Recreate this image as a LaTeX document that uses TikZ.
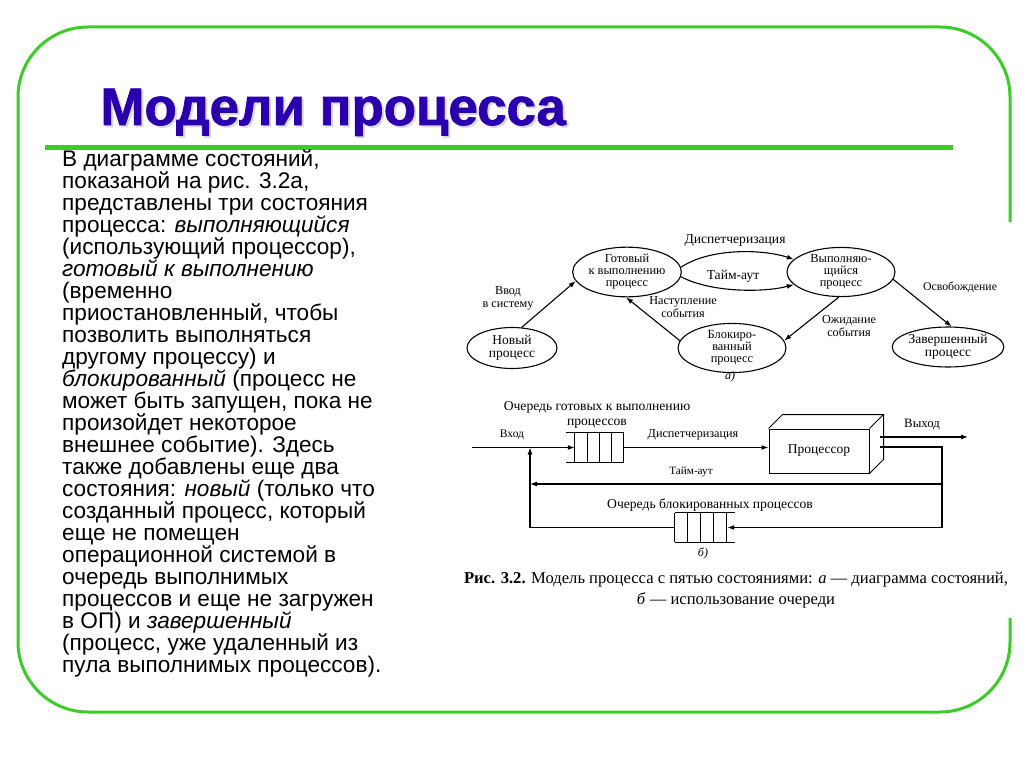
\documentclass[tikz,border=0pt]{standalone}
\usepackage{fontspec}
\setmainfont{Liberation Serif}
\newfontfamily\slidefont{Liberation Sans}
\newfontfamily\titlefont[BoldFeatures={FakeBold=1.5}]{Liberation Sans}
\usetikzlibrary{arrows.meta,positioning,calc,shapes.geometric}
\definecolor{slidegreen}{HTML}{3CCC28}
\definecolor{titleblue}{HTML}{2A00AE}

\begin{document}
\begin{tikzpicture}[x=1pt, y=-1pt, >={Latex[length=7pt,width=5pt]},
  state/.style={draw, line width=1.1pt, ellipse, minimum width=108pt, minimum height=40pt,
    inner sep=0pt, align=center, font=\fontsize{12.4}{12}\selectfont},
  bigstate/.style={state, font=\fontsize{13.5}{13.5}\selectfont},
  lbl/.style={font=\fontsize{12.2}{13}\selectfont, align=center},
  biglbl/.style={lbl, font=\fontsize{13.6}{15}\selectfont},
  flow/.style={->, line width=1.1pt},
  queue/.style={minimum height=29pt, inner sep=0pt}]
\useasboundingbox (0,0) rectangle (1024,767);
% slide frame
\draw[slidegreen, line width=3pt, rounded corners=70pt] (18,27) rectangle (1010,712);
\fill[white] (1000,222) rectangle (1022,618);
% title
\node[anchor=base west, font=\titlefont\bfseries\fontsize{52.8}{52.8}\selectfont, text=black!15] (titleshade) at (99,127) {Модели процесса};
\node[anchor=base west, font=\titlefont\bfseries\fontsize{52.8}{52.8}\selectfont, text=titleblue] (title) at (97,125) {Модели процесса};
\draw[slidegreen, line width=5pt] (45,148) -- (953,148);
% body text
\node[anchor=north west, inner sep=0pt, align=left, font=\slidefont\fontsize{22.6}{22}\selectfont] (body) at (62,150) {%
В диаграмме состояний,\\
показаной на рис. 3.2а,\\
представлены три состояния\\
процесса: \textit{выполняющийся}\\
(использующий процессор),\\
\textit{готовый к выполнению}\\
(временно\\
приостановленный, чтобы\\
позволить выполняться\\
другому процессу) и\\
\textit{блокированный} (процесс не\\
может быть запущен, пока не\\
произойдет некоторое\\
внешнее событие). Здесь\\
также добавлены еще два\\
состояния: \textit{новый} (только что\\
созданный процесс, который\\
еще не помещен\\
операционной системой в\\
очередь выполнимых\\
процессов и еще не загружен\\
в ОП) и \textit{завершенный}\\
(процесс, уже удаленный из\\
пула выполнимых процессов).};
% a) state diagram
\node[state] (ready) at (627,272) {Готовый\\к выполнению\\процесс};
\node[state] (running) at (841,272) {Выполняю-\\щийся\\процесс};
\node[bigstate, minimum width=90pt, minimum height=41pt] (new) at (512,348) {Новый\\процесс};
\node[state] (blocked) at (732,348) {Блокиро-\\ванный\\процесс};
\node[bigstate, minimum width=110pt] (exit) at (948,347) {Завершенный\\процесс};
\draw[flow] (new.65) -- (ready.190);
\draw[flow] (blocked.172) -- (ready.268);
\draw[flow] (ready.5) .. controls +(30,-20) and +(-30,-10) .. (running.165);
\draw[flow] (ready.-5) .. controls +(30,16) and +(-30,8) .. (running.195);
\draw[flow] (running.265) -- (blocked.8);
\draw[flow] (running.-8) -- (exit.80);
\node[lbl] (enter) at (508,298) {Ввод\\в систему};
\node[lbl] (wake) at (683,307) {Наступление\\события};
\node[biglbl] (dispA) at (735,240) {Диспетчеризация};
\node[biglbl] (timeA) at (733,276) {Тайм-аут};
\node[lbl] (wait) at (849,326) {Ожидание\\события};
\node[lbl, font=\fontsize{11.8}{12}\selectfont] (release) at (960,287) {Освобождение};
\node[lbl, font=\itshape\fontsize{12}{12}\selectfont] (figa) at (730,377) {а)};
% b) queues
\node[queue, minimum width=49pt] (rq) at (599.5,447.5) {};
\draw[line width=1pt] ($(rq.north west)+(-9,0)$) -- (rq.north east) ($(rq.south west)+(-9,0)$) -- (rq.south east);
\foreach \i in {0,...,4}
  \draw[line width=1pt] ($(rq.north west)+(12.25*\i,0)$) -- ($(rq.south west)+(12.25*\i,0)$);
\node[queue, minimum width=52pt] (bq) at (701,527.5) {};
\draw[line width=1pt] (bq.north west) -- ($(bq.north east)+(8,0)$) (bq.south west) -- ($(bq.south east)+(8,0)$);
\foreach \i in {0,...,4}
  \draw[line width=1pt] ($(bq.north west)+(13*\i,0)$) -- ($(bq.south west)+(13*\i,0)$);
% processor box
\node[draw, line width=1pt, minimum width=100pt, minimum height=44pt, inner sep=0pt, font=\fontsize{13.5}{14}\selectfont] (cpu) at (819,451) {Процессор};
\draw[line width=1pt] (cpu.north west) -- ++(14,-14) -- ($(cpu.north east)+(14,-14)$) -- (cpu.north east)
  ($(cpu.north east)+(14,-14)$) -- ($(cpu.south east)+(14,-14)$) -- (cpu.south east);
\coordinate (inlet) at (472,447.5);
\coordinate (cpuout) at (880,437);
\coordinate (outlet) at (968,437);
\coordinate (cpuback) at (880,447);
\coordinate (loopR) at (942,447);
\coordinate (toR) at (942,484);
\coordinate (blR) at (942,527.5);
\coordinate (toL) at (530,484);
\coordinate (loopL) at (530,527.5);
\coordinate (join) at (530,447.5);
\draw[flow] (inlet) -- (rq.west);
\draw[flow] (rq.east) -- (rq.east -| cpu.west);
\draw[flow] (cpuout) -- (outlet);
\draw[line width=1.1pt] (cpuback) -- (loopR) -- (blR);
\draw[flow] (toR) -- (toL);
\draw[flow] (blR) -- (bq.east);
\draw[line width=1.1pt] (bq.west) -- (loopL);
\draw[flow] (loopL) -- (join);
\node[biglbl] (rqlabel) at (597,415) {Очередь готовых к выполнению\\процессов};
\node[lbl, font=\fontsize{11.5}{12}\selectfont] (inlabel) at (512,435) {Вход};
\node[lbl] (dispB) at (693,435) {Диспетчеризация};
\node[lbl, font=\fontsize{12.8}{13}\selectfont] (outlabel) at (922,425) {Выход};
\node[lbl, font=\fontsize{11.2}{12}\selectfont] (timeB) at (691,472) {Тайм-аут};
\node[biglbl] (bqlabel) at (710,505) {Очередь блокированных процессов};
\node[lbl, font=\itshape\fontsize{12}{12}\selectfont] (figb) at (703,553) {б)};
% caption
\node[align=center, font=\fontsize{16.6}{21}\selectfont] (caption) at (736,590) {%
\textbf{Рис. 3.2.} Модель процесса с пятью состояниями: \textit{а} — диаграмма состояний,\\
\textit{б} — использование очереди};
\end{tikzpicture}
\end{document}
